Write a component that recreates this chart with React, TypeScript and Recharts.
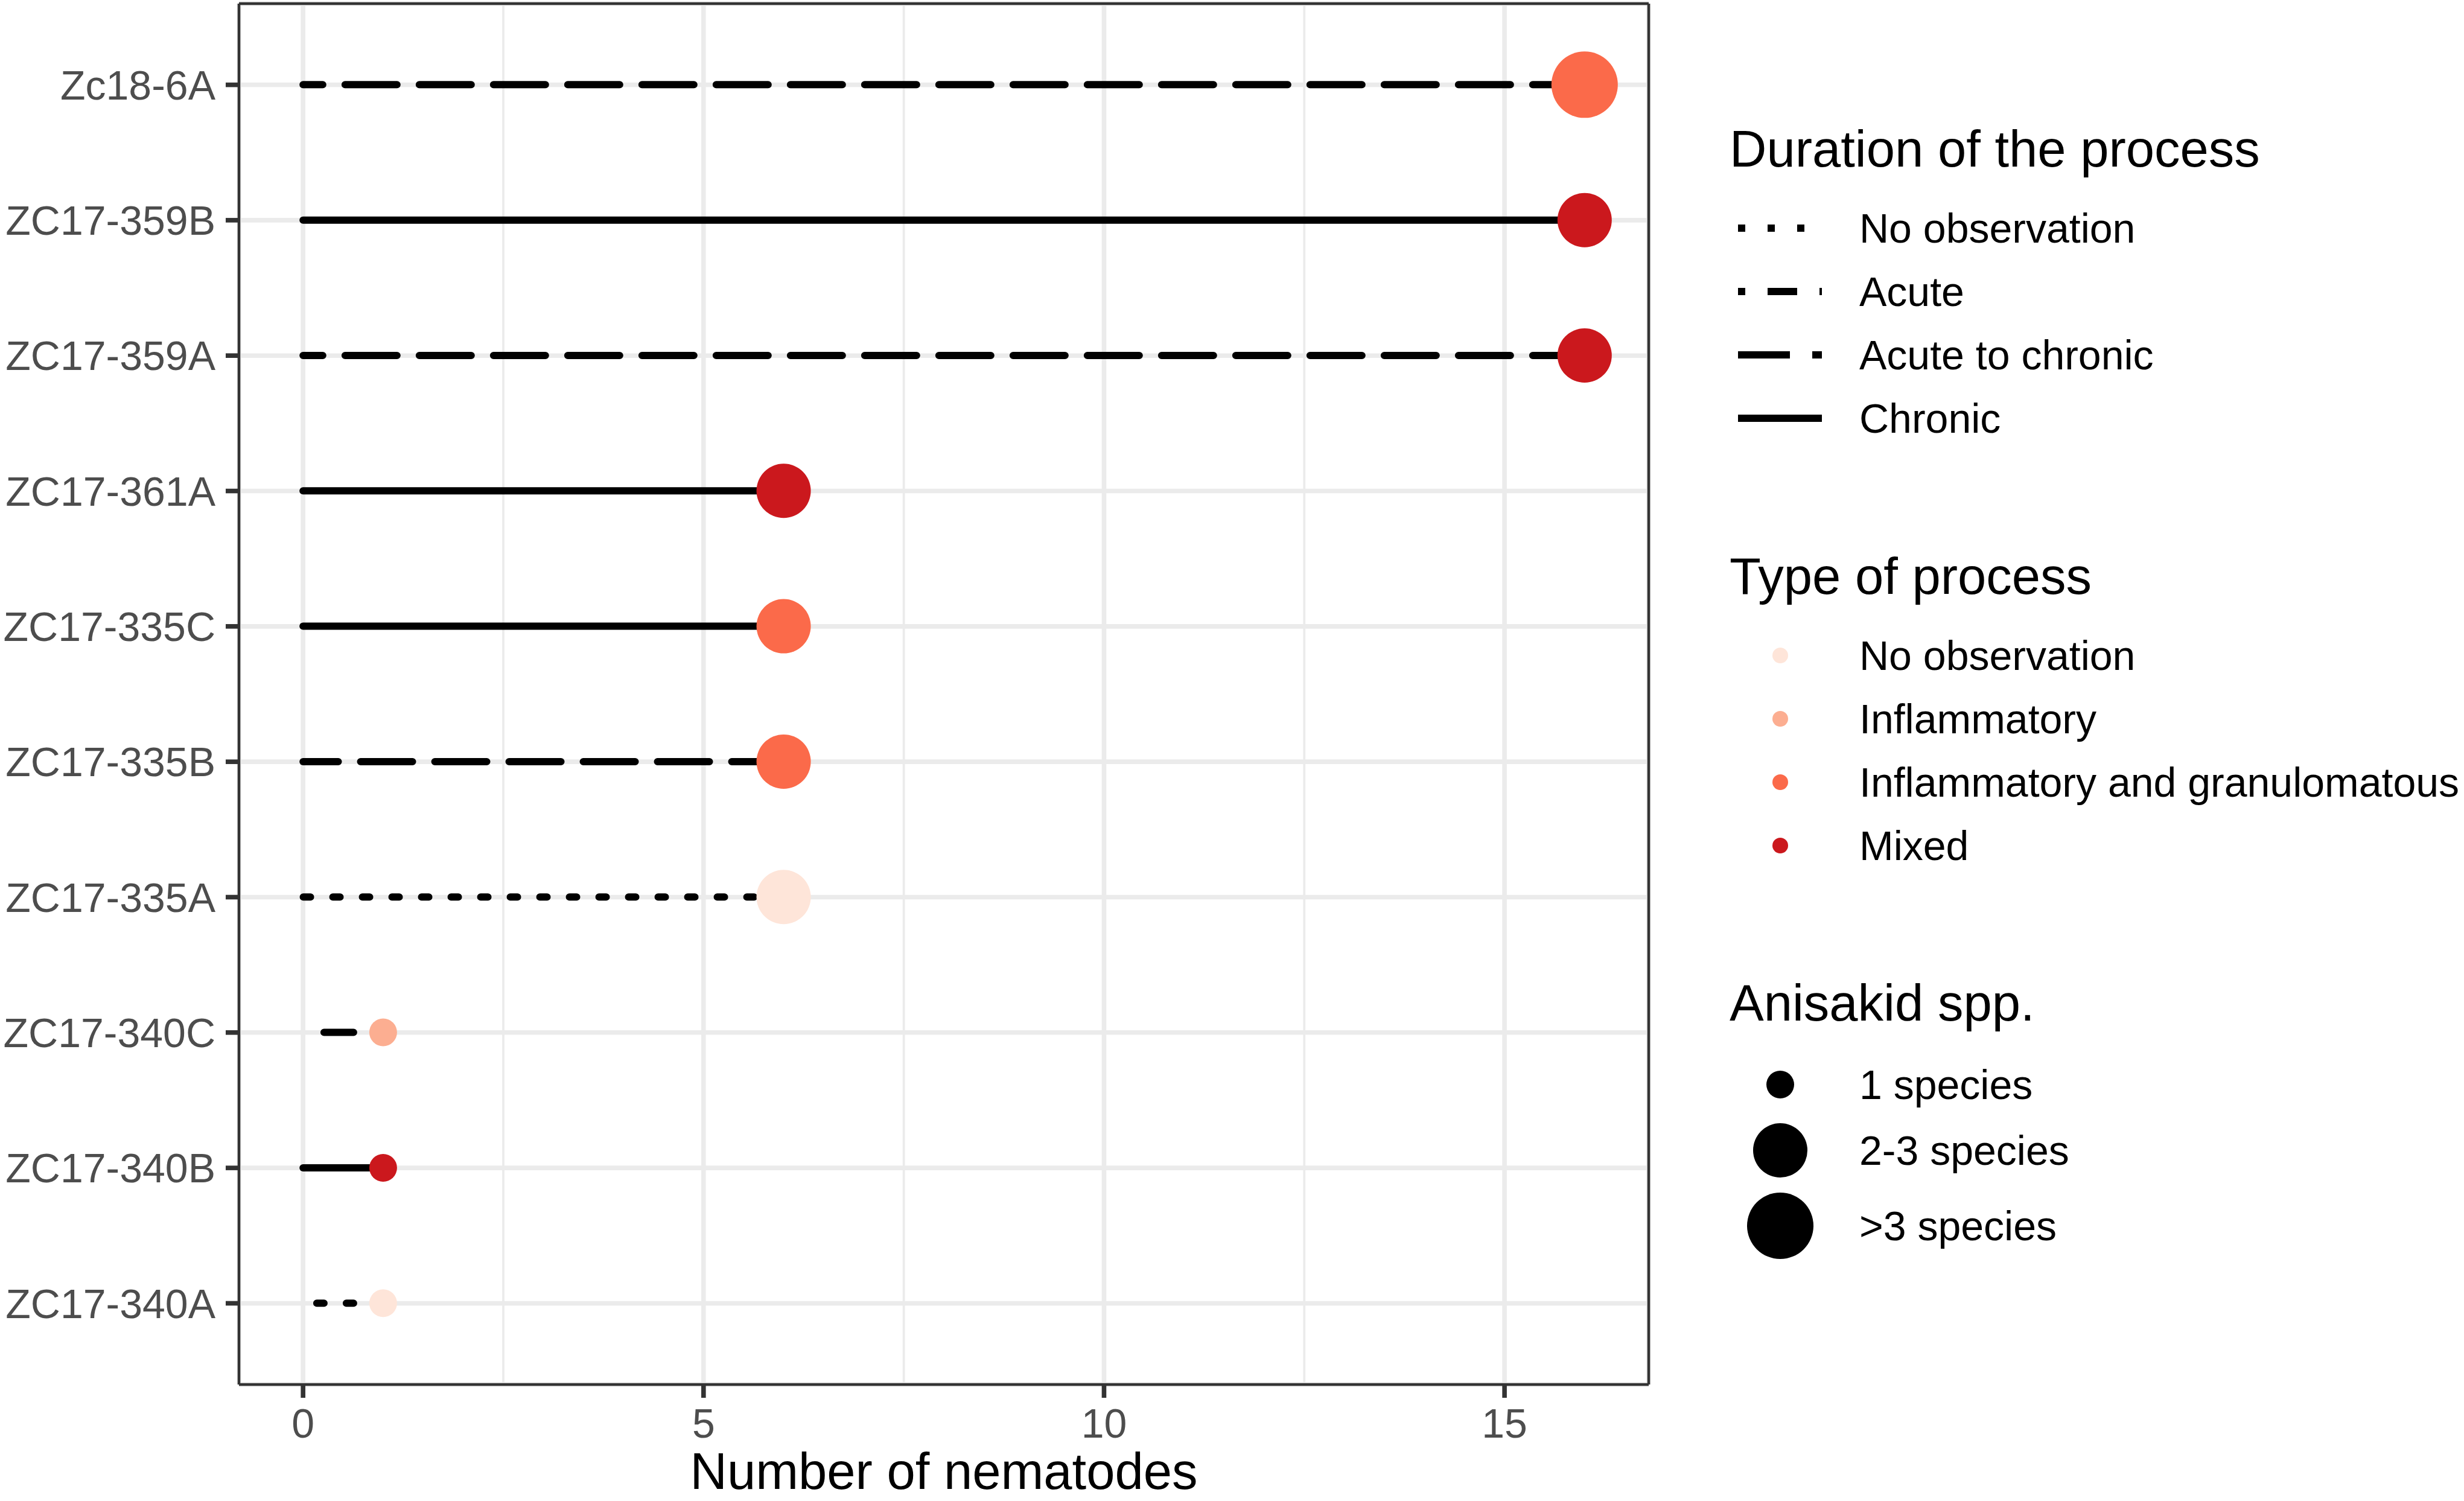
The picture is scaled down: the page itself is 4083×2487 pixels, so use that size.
import React from "react"
import { ComposedChart, Bar, XAxis, YAxis, CartesianGrid, Legend } from "recharts"

// samples, top to bottom
const samples = [
  "Zc18-6A",
  "ZC17-359B",
  "ZC17-359A",
  "ZC17-361A",
  "ZC17-335C",
  "ZC17-335B",
  "ZC17-335A",
  "ZC17-340C",
  "ZC17-340B",
  "ZC17-340A",
]
const nematodes = [16, 16, 16, 6, 6, 6, 6, 1, 1, 1]
const durations = [
  "Acute to chronic",
  "Chronic",
  "Acute to chronic",
  "Chronic",
  "Chronic",
  "Acute to chronic",
  "No observation",
  "Acute",
  "Chronic",
  "No observation",
]
const processes = [
  "Inflammatory and granulomatous",
  "Mixed",
  "Mixed",
  "Mixed",
  "Inflammatory and granulomatous",
  "Inflammatory and granulomatous",
  "No observation",
  "Inflammatory",
  "Mixed",
  "No observation",
]
const speciesGroups = [
  ">3 species",
  "2-3 species",
  "2-3 species",
  "2-3 species",
  "2-3 species",
  "2-3 species",
  "2-3 species",
  "1 species",
  "1 species",
  "1 species",
]

const durationLevels = ["No observation", "Acute", "Acute to chronic", "Chronic"]
const processLevels = ["No observation", "Inflammatory", "Inflammatory and granulomatous", "Mixed"]
const speciesLevels = ["1 species", "2-3 species", ">3 species"]

const xTicks = [0, 5, 10, 15]
const xMinorTicks = [2.5, 7.5, 12.5]
const xDomain = [-0.8, 16.8]

// styles (ggplot linetypes scaled to the line width, brewer Reds)
const dashes = ["12 37", "12 37 49 37", "86 37", ""]
const reds = ["#FEE5D9", "#FCAE91", "#FB6A4A", "#CB181D"]
const radii = [23, 45, 55]

const FONT = "'Liberation Sans', Arial, sans-serif"
const W = 4083
const H = 2487
const border = { stroke: "#333333", strokeWidth: 4.5 }

const data = samples.map((id, i) => ({
  id,
  n: nematodes[i],
  duration: durations[i],
  process: processes[i],
  species: speciesGroups[i],
}))

function Lollipop(props: any) {
  const { x, y, width, height, payload } = props
  const cy = y + height / 2
  const end = x + width
  const dash = dashes[durationLevels.indexOf(payload.duration)]
  return (
    <g>
      {/* drawn from the value back to zero, like geom_segment here */}
      <path
        d={`M${end},${cy}L${x},${cy}`}
        stroke="#000"
        strokeWidth={12}
        strokeLinecap="round"
        strokeDasharray={dash || undefined}
        fill="none"
      />
      <circle
        cx={end}
        cy={cy}
        r={radii[speciesLevels.indexOf(payload.species)]}
        fill={reds[processLevels.indexOf(payload.process)]}
      />
    </g>
  )
}

const LEG_X = 2840

function LegendPanel() {
  const title = { fontFamily: FONT, fontSize: 85, fill: "#000" }
  const label = { fontFamily: FONT, fontSize: 68, fill: "#000" }
  const keyX = 110
  const labelX = 241
  return (
    <svg width={W - LEG_X} height={H} style={{ display: "block" }}>
      <text x={26} y={276} style={title}>Duration of the process</text>
      {durationLevels.map((d, i) => {
        const cy = 378 + i * 105
        return (
          <g key={d}>
            <line
              x1={40}
              x2={179}
              y1={cy}
              y2={cy}
              stroke="#000"
              strokeWidth={12}
              strokeDasharray={dashes[i] || undefined}
            />
            <text x={labelX} y={cy + 24} style={label}>{d}</text>
          </g>
        )
      })}

      <text x={26} y={984} style={title}>Type of process</text>
      {processLevels.map((p, i) => {
        const cy = 1086 + i * 105
        return (
          <g key={p}>
            <circle cx={keyX} cy={cy} r={13} fill={reds[i]} />
            <text x={labelX} y={cy + 24} style={label}>{p}</text>
          </g>
        )
      })}

      <text x={26} y={1691} style={title}>Anisakid spp.</text>
      {speciesLevels.map((s, i) => {
        const cy = [1797, 1906, 2031][i]
        return (
          <g key={s}>
            <circle cx={keyX} cy={cy} r={radii[i]} fill="#000" />
            <text x={labelX} y={cy + 24} style={label}>{s}</text>
          </g>
        )
      })}
    </svg>
  )
}

export default function App() {
  const tickStyle = { fill: "#4D4D4D", fontSize: 68, fontFamily: FONT }
  return (
    <div style={{ position: "absolute", left: 0, top: 0, width: W, height: H, background: "#fff" }}>
      <ComposedChart
        width={W}
        height={H}
        data={data}
        layout="vertical"
        margin={{ top: 5, right: W - 2733, bottom: 0, left: 0 }}
      >
        <CartesianGrid horizontal={false} verticalValues={xMinorTicks} stroke="#EBEBEB" strokeWidth={3.8} />
        <CartesianGrid stroke="#EBEBEB" strokeWidth={7.6} />
        <XAxis
          type="number"
          domain={xDomain}
          ticks={xTicks}
          height={193}
          axisLine={border}
          tickSize={22}
          tickMargin={18}
          tickLine={{ stroke: "#333333", strokeWidth: 7.6 }}
          tick={tickStyle}
          label={{
            value: "Number of nematodes",
            position: "insideBottom",
            offset: 20,
            style: { fontFamily: FONT, fontSize: 85, fill: "#000" },
          }}
        />
        {/* top and right edges of the panel border */}
        <XAxis
          xAxisId="top"
          orientation="top"
          type="number"
          domain={xDomain}
          height={1}
          tick={false}
          tickLine={false}
          axisLine={border}
        />
        <YAxis
          type="category"
          dataKey="id"
          width={396}
          padding={{ top: 22.4, bottom: 22.4 }}
          axisLine={border}
          tickSize={22}
          tickMargin={17}
          tickLine={{ stroke: "#333333", strokeWidth: 7.6 }}
          tick={tickStyle}
          interval={0}
        />
        <YAxis
          yAxisId="right"
          orientation="right"
          type="category"
          dataKey="id"
          width={1}
          tick={false}
          tickLine={false}
          axisLine={border}
        />
        <Bar dataKey="n" shape={<Lollipop />} isAnimationActive={false} />
        <Legend
          layout="vertical"
          align="center"
          verticalAlign="middle"
          width={W - LEG_X}
          height={H}
          wrapperStyle={{ left: LEG_X, top: 0 }}
          content={() => <LegendPanel />}
        />
      </ComposedChart>
    </div>
  )
}
